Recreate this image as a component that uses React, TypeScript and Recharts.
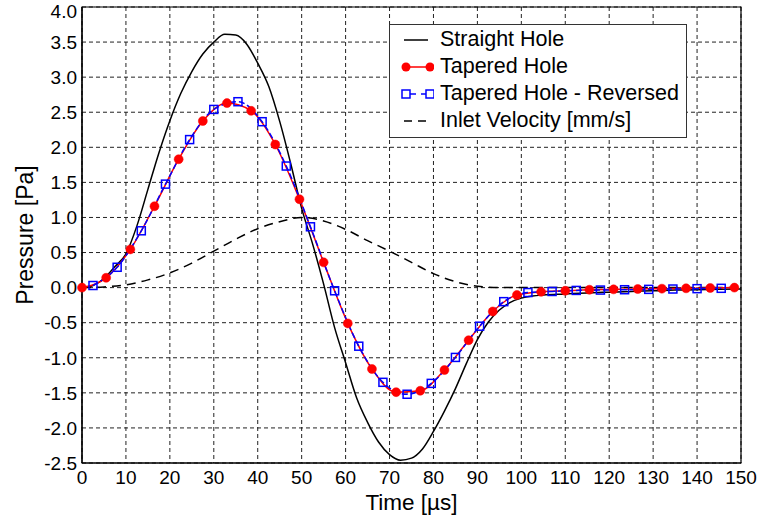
import {
  CartesianGrid,
  Legend,
  Line,
  LineChart,
  ReferenceArea,
  XAxis,
  YAxis,
} from "recharts"

// ─── Data ───────────────────────────────────────────────────────────────────

// Straight hole, sampled every 2.5 µs
const straightT = [
  0, 2.5, 5, 7.5, 10, 12.5, 15, 17.5, 20, 22.5, 25, 27.5, 30, 32.5, 35, 37.5, 40,
  42.5, 45, 47.5, 50, 52.5, 55, 57.5, 60, 62.5, 65, 67.5, 70, 72.5, 75, 77.5, 80,
  82.5, 85, 87.5, 90, 92.5, 95, 97.5, 100, 102.5, 105, 110, 115, 120, 125, 130,
  135, 140, 145, 150,
]
const straightP = [
  0, 0.03, 0.13, 0.3, 0.48, 0.88, 1.4, 1.92, 2.38, 2.77, 3.08, 3.33, 3.5, 3.61,
  3.6, 3.47, 3.2, 2.87, 2.37, 1.77, 1.13, 0.62, 0.05, -0.57, -1.07, -1.57, -1.92,
  -2.2, -2.38, -2.46, -2.43, -2.3, -2.05, -1.76, -1.44, -1.08, -0.74, -0.49,
  -0.32, -0.21, -0.15, -0.12, -0.105, -0.09, -0.075, -0.065, -0.055, -0.045,
  -0.035, -0.03, -0.025, -0.02,
]

// Tapered hole (red circles)
const taperedT = [
  0, 5.5, 11, 16.5, 22, 27.5, 33, 38.5, 44, 49.5, 55, 60.5, 66, 71.5, 77, 82.5,
  88, 93.5, 99, 104.5, 110, 115.5, 121, 126.5, 132, 137.5, 143, 148.5,
]
const taperedP = [
  0, 0.14, 0.545, 1.16, 1.83, 2.375, 2.63, 2.52, 2.04, 1.26, 0.36, -0.51, -1.16,
  -1.49, -1.47, -1.175, -0.75, -0.34, -0.105, -0.06, -0.045, -0.03, -0.025, -0.02,
  -0.015, -0.01, -0.005, 0,
]

// Tapered hole - reversed (blue squares)
const reversedT = [
  2.5, 8, 13.5, 19, 24.5, 30, 35.5, 41, 46.5, 52, 57.5, 63, 68.5, 74, 79.5, 85,
  90.5, 96, 101.5, 107, 112.5, 118, 123.5, 129, 134.5, 140, 145.5,
]
const reversedP = [
  0.03, 0.29, 0.81, 1.475, 2.11, 2.54, 2.65, 2.365, 1.733, 0.867, -0.045, -0.835,
  -1.35, -1.52, -1.365, -0.995, -0.55, -0.2, -0.07, -0.055, -0.04, -0.035, -0.03,
  -0.025, -0.02, -0.015, -0.01,
]

// Inlet velocity [mm/s]
const inletT = [
  0, 5, 10, 15, 20, 25, 30, 35, 40, 45, 50, 55, 60, 65, 70, 75, 80, 85, 90, 95,
  100, 110, 120, 130, 140, 150,
]
const inletV = [
  0, 0.01, 0.04, 0.11, 0.21, 0.35, 0.52, 0.69, 0.84, 0.94, 1.0, 0.95, 0.83, 0.67,
  0.52, 0.36, 0.2, 0.085, 0.02, 0, 0, 0, 0, 0, 0, 0,
]

const xTicks = [0, 10, 20, 30, 40, 50, 60, 70, 80, 90, 100, 110, 120, 130, 140, 150]
const yTicks = [-2.5, -2, -1.5, -1, -0.5, 0, 0.5, 1, 1.5, 2, 2.5, 3, 3.5, 4]
const xMinorTicks = Array.from({ length: 76 }, (_, i) => i * 2)
const yMinorTicks = Array.from({ length: 66 }, (_, i) => +(-2.5 + i * 0.1).toFixed(2))

const zip = (t: number[], v: number[]) => t.map((x, i) => ({ t: x, v: v[i] }))

const straightData = zip(straightT, straightP)
const taperedData = zip(taperedT, taperedP)
const reversedData = zip(reversedT, reversedP)
const inletData = zip(inletT, inletV)

const FONT = '"Liberation Sans", Arial, Helvetica, sans-serif'
const RED = "#ff0000"
const BLUE = "#0000ff"

export default function App() {
  return (
    <div
      style={{
        position: "absolute",
        left: 0,
        top: 0,
        width: 760,
        height: 523,
        background: "#fff",
        fontFamily: FONT,
      }}
    >
      <LineChart width={760} height={523} margin={{ top: 7, right: 19, bottom: 0, left: 0 }}>
        <XAxis xAxisId="minor" type="number" dataKey="t" domain={[0, 150]} ticks={xMinorTicks} hide />
        <YAxis yAxisId="minor" type="number" domain={[-2.5, 4]} ticks={yMinorTicks} hide />
        <CartesianGrid
          xAxisId="minor"
          yAxisId="minor"
          stroke="#c8c8c8"
          strokeDasharray="1 2"
          strokeWidth={0.8}
        />
        <CartesianGrid stroke="#222" strokeDasharray="4 3" strokeWidth={1} />
        <XAxis
          dataKey="t"
          type="number"
          domain={[0, 150]}
          ticks={xTicks}
          tickLine={false}
          tickMargin={2}
          height={60}
          axisLine={{ stroke: "#000", strokeWidth: 1.2 }}
          tick={{ fill: "#000", fontSize: 19, fontFamily: FONT }}
          label={{
            value: "Time [\u00b5s]",
            position: "insideBottom",
            offset: 13,
            fill: "#000",
            fontSize: 22.5,
            fontFamily: FONT,
          }}
        />
        <YAxis
          type="number"
          domain={[-2.5, 4]}
          ticks={yTicks}
          width={82}
          tickLine={false}
          tickSize={5}
          tickMargin={0}
          axisLine={{ stroke: "#000", strokeWidth: 1.2 }}
          tickFormatter={(v: number) => v.toFixed(1)}
          tick={{ fill: "#000", fontSize: 19, fontFamily: FONT }}
          label={{
            content: (props: { viewBox?: { x: number; y: number; width: number; height: number } }) => {
              const vb = props.viewBox ?? { x: 0, y: 7, width: 82, height: 456 }
              const cx = vb.x + 33
              const cy = vb.y + vb.height / 2
              return (
                <text
                  x={cx}
                  y={cy}
                  textAnchor="middle"
                  transform={`rotate(-90 ${cx} ${cy})`}
                  fill="#000"
                  fontSize={23}
                  fontFamily={FONT}
                >
                  Pressure [Pa]
                </text>
              )
            },
          }}
        />
        <Line
          data={inletData}
          dataKey="v"
          type="monotone"
          stroke="#000"
          strokeWidth={1.5}
          strokeDasharray="9 6"
          dot={false}
          isAnimationActive={false}
        />
        <Line
          data={straightData}
          dataKey="v"
          type="monotone"
          stroke="#000"
          strokeWidth={1.5}
          dot={false}
          isAnimationActive={false}
        />
        <Line
          data={taperedData}
          dataKey="v"
          type="monotone"
          stroke={RED}
          strokeWidth={1.5}
          dot={{ r: 4.5, fill: RED, stroke: RED, strokeWidth: 0.5 }}
          isAnimationActive={false}
        />
        <Line
          data={reversedData}
          dataKey="v"
          type="monotone"
          stroke={BLUE}
          strokeWidth={1.5}
          strokeDasharray="6 3"
          dot={(p: { cx?: number; cy?: number; index?: number }) => (
            <rect
              key={`sq-${p.index}`}
              x={(p.cx ?? 0) - 4}
              y={(p.cy ?? 0) - 4}
              width={8}
              height={8}
              fill="none"
              stroke={BLUE}
              strokeWidth={1.5}
            />
          )}
          isAnimationActive={false}
        />
        <ReferenceArea
          x1={0}
          x2={150}
          y1={-2.5}
          y2={4}
          fill="none"
          fillOpacity={0}
          stroke="#000"
          strokeWidth={1.2}
        />
        <Legend
          layout="horizontal"
          verticalAlign="middle"
          wrapperStyle={{ position: "absolute", left: 389, top: 24, width: 298, height: 114 }}
          content={() => <LegendBox />}
        />
      </LineChart>
    </div>
  )
}

// ─── Legend box (MATLAB style) ──────────────────────────────────────────────

function LegendBox() {
  const rows: { label: string; icon: JSX.Element }[] = [
    {
      label: "Straight Hole",
      icon: <line x1={8} x2={32} y1={10} y2={10} stroke="#000" strokeWidth={1.5} />,
    },
    {
      label: "Tapered Hole",
      icon: (
        <g>
          <line x1={10} x2={34} y1={10} y2={10} stroke={RED} strokeWidth={1.5} />
          <circle cx={10} cy={10} r={4.5} fill={RED} />
          <circle cx={34} cy={10} r={4.5} fill={RED} />
        </g>
      ),
    },
    {
      label: "Tapered Hole - Reversed",
      icon: (
        <g>
          <line x1={14} x2={30} y1={10} y2={10} stroke={BLUE} strokeWidth={1.5} strokeDasharray="6 5" />
          <rect x={6} y={6} width={8} height={8} fill="none" stroke={BLUE} strokeWidth={1.5} />
          <rect x={30} y={6} width={8} height={8} fill="none" stroke={BLUE} strokeWidth={1.5} />
        </g>
      ),
    },
    {
      label: "Inlet Velocity [mm/s]",
      icon: <line x1={8} x2={32} y1={10} y2={10} stroke="#000" strokeWidth={1.5} strokeDasharray="8 6" />,
    },
  ]
  return (
    <div
      style={{
        boxSizing: "border-box",
        width: 298,
        height: 114,
        border: "1px solid #333",
        background: "#fff",
        padding: "1px 0 0 6px",
        fontFamily: FONT,
        fontSize: 21.5,
        color: "#000",
      }}
    >
      {rows.map((r) => (
        <div key={r.label} style={{ display: "flex", alignItems: "center", height: 27 }}>
          <svg width={38} height={20} style={{ marginRight: 6, flex: "none" }}>
            {r.icon}
          </svg>
          <span style={{ whiteSpace: "nowrap", lineHeight: "27px" }}>{r.label}</span>
        </div>
      ))}
    </div>
  )
}
